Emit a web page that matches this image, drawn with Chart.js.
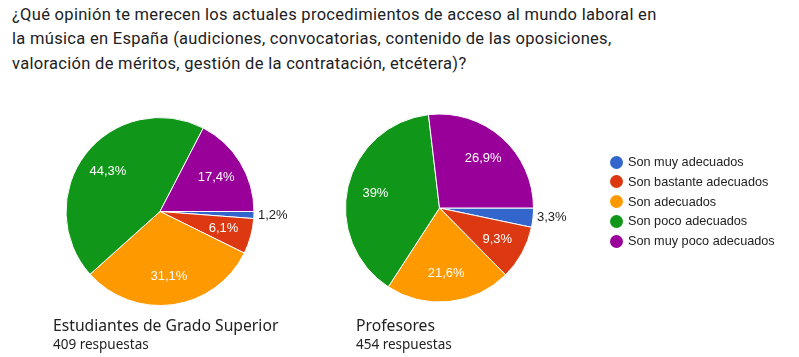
<!DOCTYPE html>
<html><head><meta charset="utf-8">
<script src="https://cdn.jsdelivr.net/npm/chart.js@4"></script>
<style>
html,body{margin:0;padding:0;background:#fff;width:799px;height:357px;overflow:hidden;}
#wrap{position:relative;width:799px;height:357px;}
canvas{position:absolute;left:0;top:0;}
.title{position:absolute;left:12px;top:3px;font-family:Roboto,sans-serif;font-size:16.5px;letter-spacing:0.3px;line-height:24.4px;color:#202124;white-space:nowrap;}
.cap{position:absolute;font-family:"Noto Sans",sans-serif;color:#222;white-space:nowrap;}
.cap .a{font-size:15.7px;line-height:20px;}
.cap .b{font-size:13.5px;line-height:18px;}
.leg{position:absolute;font-family:"Liberation Sans",Arial,sans-serif;font-size:12.7px;color:#222;white-space:nowrap;height:20px;line-height:20px;}
.leg i{position:absolute;left:0;top:3.5px;width:13px;height:13px;border-radius:50%;}
.leg span{position:absolute;left:18px;top:0;}
</style></head>
<body><div id="wrap">
<div class="title">¿Qué opinión te merecen los actuales procedimientos de acceso al mundo laboral en<br>la música en España (audiciones, convocatorias, contenido de las oposiciones,<br>valoración de méritos, gestión de la contratación, etcétera)?</div>
<canvas id="c1" width="799" height="357"></canvas>
<canvas id="c2" width="799" height="357"></canvas>
<div class="cap" style="left:53px;top:315px"><div class="a" id="t1"></div><div class="b" id="n1"></div></div>
<div class="cap" style="left:356px;top:315px"><div class="a" id="t2"></div><div class="b" id="n2"></div></div>
<div id="legend"></div>
</div>
<script>
const categories = ["Son muy adecuados","Son bastante adecuados","Son adecuados","Son poco adecuados","Son muy poco adecuados"];
const colors = ["#3366cc","#dc3912","#ff9900","#109618","#990099"];
const estudiantes = [1.2, 6.1, 31.1, 44.3, 17.4];
const profesores = [3.3, 9.3, 21.6, 39, 26.9];
const groupTitles = ["Estudiantes de Grado Superior","Profesores"];
const groupResponses = ["409 respuestas","454 respuestas"];

document.getElementById('t1').textContent = groupTitles[0];
document.getElementById('n1').textContent = groupResponses[0];
document.getElementById('t2').textContent = groupTitles[1];
document.getElementById('n2').textContent = groupResponses[1];

const legend = document.getElementById('legend');
categories.forEach((c,i)=>{
  const d = document.createElement('div');
  d.className='leg';
  d.style.left='610px';
  d.style.top=(152 + i*19.75)+'px';
  d.innerHTML='<i style="background:'+colors[i]+'"></i><span>'+c+'</span>';
  legend.appendChild(d);
});

const fmt = v => String(v).replace('.', ',') + '%';
const labelPlugin = {
  id:'sliceLabels',
  afterDatasetsDraw(chart){
    const ctx = chart.ctx;
    const meta = chart.getDatasetMeta(0);
    const data = chart.data.datasets[0].data;
    ctx.save();
    meta.data.forEach((arc,i)=>{
      const p = arc.getProps(['x','y','startAngle','endAngle','outerRadius'], true);
      const mid = (p.startAngle + p.endAngle)/2;
      const v = data[i];
      ctx.font = '13px "Liberation Sans", Arial, sans-serif';
      ctx.textBaseline = 'middle';
      if (v < 5) {
        ctx.fillStyle = '#222';
        ctx.textAlign = 'left';
        ctx.fillText(fmt(v), p.x + (p.outerRadius+4)*Math.cos(mid), p.y + p.outerRadius*Math.sin(mid));
      } else {
        ctx.fillStyle = '#fff';
        ctx.textAlign = 'center';
        const r = p.outerRadius*0.7;
        ctx.fillText(fmt(v), p.x + r*Math.cos(mid), p.y + r*Math.sin(mid));
      }
    });
    ctx.restore();
  }
};

function makePie(id, values, pad){
  return new Chart(document.getElementById(id), {
    type:'pie',
    data:{labels:categories, datasets:[{data:values, backgroundColor:colors, borderColor:'#ffffff', borderWidth:1}]},
    options:{
      responsive:false, animation:false, devicePixelRatio:1,
      rotation:90, radius:94,
      layout:{padding:pad},
      plugins:{legend:{display:false}, tooltip:{enabled:false}}
    },
    plugins:[labelPlugin]
  });
}
makePie('c1', estudiantes, {left:66, right:545, top:117.5, bottom:51.5});
makePie('c2', profesores, {left:345.5, right:265.5, top:114, bottom:55});
</script>
</body></html>
